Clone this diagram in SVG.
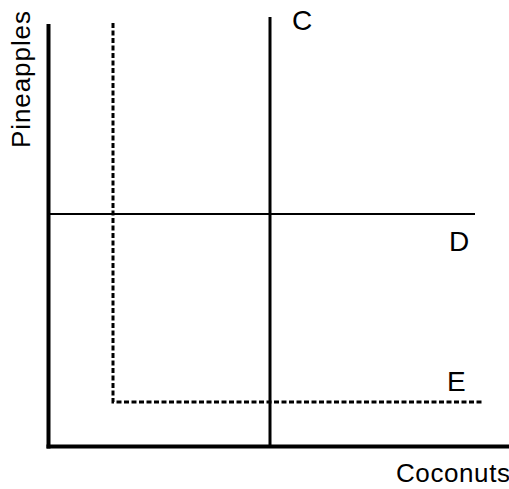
<svg xmlns="http://www.w3.org/2000/svg" width="509" height="489" viewBox="0 0 509 489">
<style>
text{font-family:"Liberation Sans",Arial,sans-serif;font-size:26px;fill:#000}
.big{font-size:28px}
.ax{stroke:#000;stroke-width:4;fill:none}
.ln{stroke:#000;fill:none}
.dash{stroke:#000;stroke-width:3;fill:none;stroke-dasharray:5 2.5}
</style>
<rect width="509" height="489" fill="#fff"/>
<g id="axes">
<line class="ax" x1="48.5" y1="24" x2="48.5" y2="448.5"/>
<line class="ax" x1="46.5" y1="446.5" x2="509" y2="446.5"/>
</g>
<g id="connectors">
<line id="C-line" class="ln" stroke-width="3" x1="270" y1="17" x2="270" y2="446"/>
<line id="D-line" class="ln" stroke-width="2" x1="48" y1="214" x2="475" y2="214"/>
<polyline id="E-line" class="dash" points="113,23 113,402 482,402"/>
</g>
<g id="labels">
<text id="C" class="big" x="292" y="30">C</text>
<text id="D" class="big" x="449" y="251">D</text>
<text id="E" class="big" x="447" y="391">E</text>
<text id="xlabel" x="396" y="482" textLength="114" lengthAdjust="spacing">Coconuts</text>
<text id="ylabel" transform="translate(30,148) rotate(-90)" textLength="137" lengthAdjust="spacing">Pineapples</text>
</g>
</svg>
